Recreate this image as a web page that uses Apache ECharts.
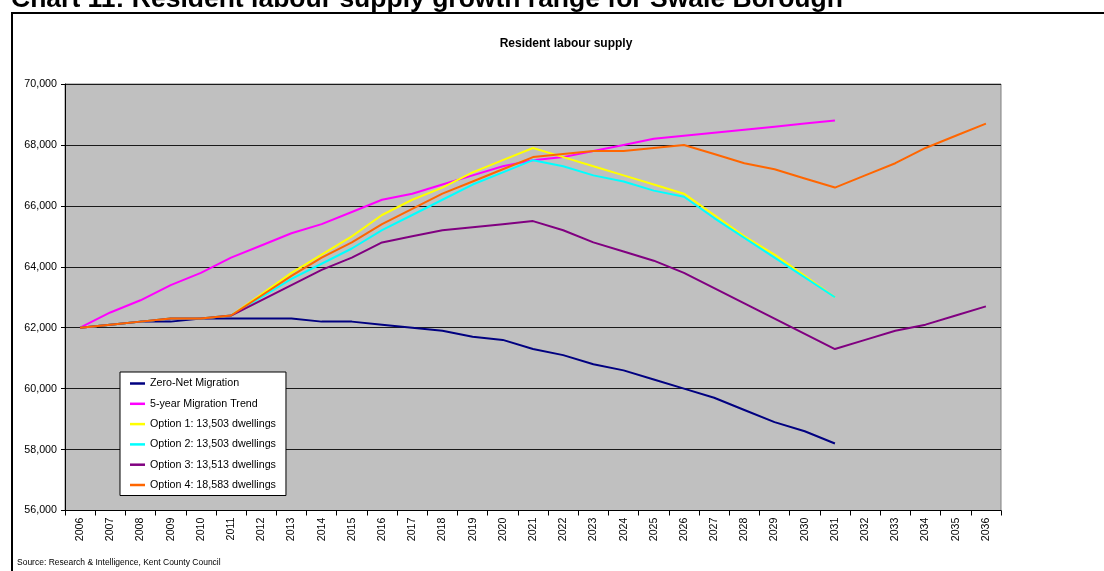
<!DOCTYPE html>
<html>
<head>
<meta charset="utf-8">
<title>Resident labour supply</title>
<script src="https://cdn.jsdelivr.net/npm/echarts@6/dist/echarts.min.js"></script>
<style>
  html, body { margin: 0; padding: 0; background: #ffffff; }
  #chart { width: 1104px; height: 571px; }
</style>
</head>
<body>
<div id="chart"></div>
<script>
// Years on the category axis
const years = [
  '2006','2007','2008','2009','2010','2011','2012','2013','2014','2015',
  '2016','2017','2018','2019','2020','2021','2022','2023','2024','2025',
  '2026','2027','2028','2029','2030','2031','2032','2033','2034','2035','2036'
];

// Resident labour supply by scenario (persons)
const zeroNetMigration = [62000,62100,62200,62200,62300,62300,62300,62300,62200,62200,62100,62000,61900,61700,61600,61300,61100,60800,60600,60300,60000,59700,59300,58900,58600,58200,null,null,null,null,null];
const fiveYearTrend    = [62000,62500,62900,63400,63800,64300,64700,65100,65400,65800,66200,66400,66700,67000,67300,67500,67600,67800,68000,68200,68300,68400,68500,68600,68700,68800,null,null,null,null,null];
const option1          = [62000,62100,62200,62300,62300,62400,63100,63800,64400,65000,65700,66200,66600,67100,67500,67900,67600,67300,67000,66700,66400,65700,65000,64400,63700,63000,null,null,null,null,null];
const option2          = [62000,62100,62200,62300,62300,62400,63000,63600,64100,64600,65200,65700,66200,66700,67100,67500,67300,67000,66800,66500,66300,65600,64950,64300,63650,63000,null,null,null,null,null];
const option3          = [62000,62100,62200,62300,62300,62400,62900,63400,63900,64300,64800,65000,65200,65300,65400,65500,65200,64800,64500,64200,63800,63300,62800,62300,61800,61300,61600,61900,62100,62400,62700];
const option4          = [62000,62100,62200,62300,62300,62400,63050,63700,64300,64800,65400,65900,66400,66800,67200,67600,67700,67800,67800,67900,68000,67700,67400,67200,66900,66600,67000,67400,67900,68300,68700];

const seriesNames = [
  'Zero-Net Migration',
  '5-year Migration Trend',
  'Option 1: 13,503 dwellings',
  'Option 2: 13,503 dwellings',
  'Option 3: 13,513 dwellings',
  'Option 4: 18,583 dwellings'
];
const seriesData = [zeroNetMigration, fiveYearTrend, option1, option2, option3, option4];
const seriesColors = ['#000080', '#FF00FF', '#FFFF00', '#00FFFF', '#800080', '#FF6600'];

const FONT = 'Arial, "Liberation Sans", sans-serif';

function withCommas(v) {
  return String(v).replace(/\B(?=(\d{3})+(?!\d))/g, ',');
}

const chart = echarts.init(document.getElementById('chart'), null, { renderer: 'canvas' });

chart.setOption({
  backgroundColor: '#ffffff',
  animation: false,
  textStyle: { fontFamily: FONT },
  graphic: [
    {
      type: 'rect',
      shape: { x: 12, y: 13, width: 1200, height: 700 },
      style: { fill: 'none', stroke: '#000000', lineWidth: 2 },
      silent: true
    },
    {
      type: 'text',
      x: 11, y: 0,
      style: {
        text: 'Chart 11: Resident labour supply growth range for Swale Borough',
        font: 'bold 26.5px ' + FONT,
        fill: '#000000',
        textAlign: 'left',
        textVerticalAlign: 'middle'
      }
    },
    {
      type: 'text',
      x: 566, y: 44,
      style: {
        text: 'Resident labour supply',
        font: 'bold 12px ' + FONT,
        fill: '#000000',
        textAlign: 'center',
        textVerticalAlign: 'middle'
      }
    },
    {
      type: 'text',
      x: 17, y: 563,
      style: {
        text: 'Source: Research & Intelligence, Kent County Council',
        font: '8.5px ' + FONT,
        fill: '#000000',
        textAlign: 'left',
        textVerticalAlign: 'middle'
      }
    }
  ],
  grid: {
    left: 65,
    right: 103,
    top: 84,
    bottom: 60.5,
    show: true,
    backgroundColor: '#C0C0C0',
    borderColor: '#808080',
    borderWidth: 1
  },
  legend: {
    orient: 'vertical',
    left: 120,
    top: 372,
    padding: [6, 10, 5, 10],
    icon: 'rect',
    itemWidth: 15,
    itemHeight: 2.5,
    itemGap: 9.3,
    backgroundColor: '#ffffff',
    borderColor: '#000000',
    borderWidth: 1,
    textStyle: { fontSize: 10.7, fontFamily: FONT, color: '#000000', lineHeight: 11 },
    data: seriesNames
  },
  xAxis: {
    type: 'category',
    data: years,
    boundaryGap: true,
    axisLine: { lineStyle: { color: '#000000', width: 1 } },
    axisTick: { show: true, length: 5, lineStyle: { color: '#000000' } },
    axisLabel: { rotate: 90, fontSize: 10.7, color: '#000000', margin: 7, interval: 0, fontFamily: FONT },
    splitLine: { show: false }
  },
  yAxis: {
    type: 'value',
    min: 56000,
    max: 70000,
    interval: 2000,
    axisLine: { show: true, lineStyle: { color: '#000000', width: 1 } },
    axisTick: { show: true, length: 4, lineStyle: { color: '#000000' } },
    axisLabel: { fontSize: 10.7, color: '#000000', margin: 8, fontFamily: FONT, formatter: withCommas },
    splitLine: { show: true, lineStyle: { color: '#1a1a1a', width: 1 } }
  },
  series: seriesNames.map((name, i) => ({
    name: name,
    type: 'line',
    data: seriesData[i],
    symbol: 'none',
    showSymbol: false,
    lineStyle: { color: seriesColors[i], width: 2 },
    itemStyle: { color: seriesColors[i] },
    connectNulls: false,
    z: 2 + i
  }))
});
</script>
</body>
</html>
